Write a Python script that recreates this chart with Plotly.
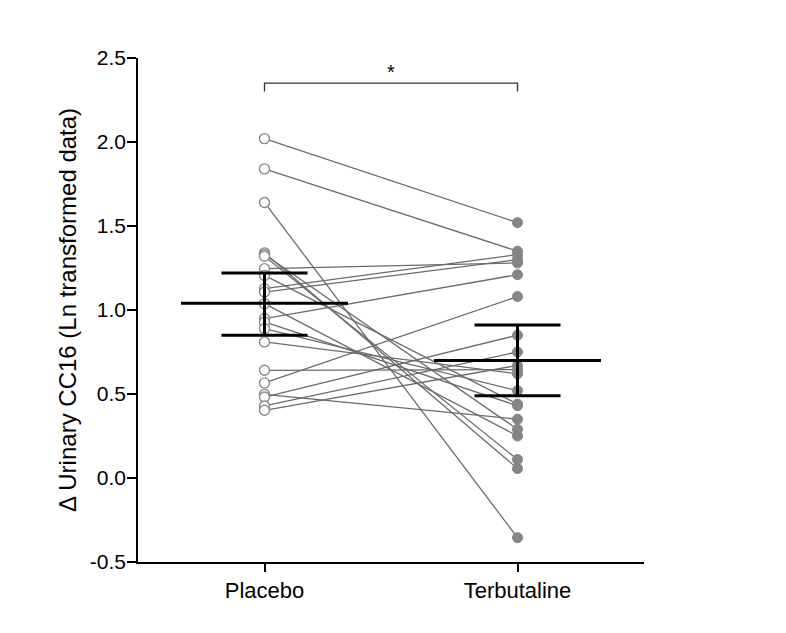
import plotly.graph_objects as go

# paired values (same index = same subject)
placebo = [2.02, 1.84, 1.64, 1.246, 1.127, 1.107, 0.949, 0.566, 0.641,
           1.34, 1.33, 1.32, 1.206, 1.038, 0.929, 0.889, 0.81,
           0.498, 0.482, 0.429, 0.403]
terbutaline = [1.52, 1.35, -0.355, 1.28, 1.33, 1.30, 1.21, 1.08, 0.645,
               0.056, 0.29, 0.11, 0.44, 0.25, 0.43, 0.52, 0.62,
               0.35, 0.85, 0.75, 0.67]

groups = ["Placebo", "Terbutaline"]
group_mean = [1.04, 0.70]
ci_upper = [1.22, 0.91]
ci_lower = [0.85, 0.49]

y_ticks = [-0.5, 0.0, 0.5, 1.0, 1.5, 2.0, 2.5]
y_ticktext = ["-0.5", "0.0", "0.5", "1.0", "1.5", "2.0", "2.5"]

sig_label = "*"
bracket_y = 2.35
bracket_drop = 0.05

FONT = "Liberation Sans, Arial, sans-serif"
mean_half = 0.33
cap_half = 0.17

fig = go.Figure()

# subject lines
lx, ly = [], []
for p, t in zip(placebo, terbutaline):
    lx += [0, 1, None]
    ly += [p, t, None]
fig.add_trace(go.Scatter(x=lx, y=ly, mode="lines",
                         line=dict(color="#6b6b6b", width=1.3),
                         hoverinfo="skip", showlegend=False))

fig.add_trace(go.Scatter(x=[0] * len(placebo), y=placebo, mode="markers",
                         marker=dict(size=10, color="white",
                                     line=dict(color="#8a8a8a", width=1.4)),
                         showlegend=False))
fig.add_trace(go.Scatter(x=[1] * len(terbutaline), y=terbutaline, mode="markers",
                         marker=dict(size=10, color="#858585",
                                     line=dict(color="#858585", width=1)),
                         showlegend=False))

# mean and CI (black, on top)
ex, ey = [], []
for i in range(len(groups)):
    ex += [i - mean_half, i + mean_half, None]
    ey += [group_mean[i], group_mean[i], None]
    ex += [i - cap_half, i + cap_half, None]
    ey += [ci_upper[i], ci_upper[i], None]
    ex += [i - cap_half, i + cap_half, None]
    ey += [ci_lower[i], ci_lower[i], None]
    ex += [i, i, None]
    ey += [ci_lower[i], ci_upper[i], None]
fig.add_trace(go.Scatter(x=ex, y=ey, mode="lines",
                         line=dict(color="black", width=3),
                         hoverinfo="skip", showlegend=False))

# significance bracket
fig.add_trace(go.Scatter(x=[0, 0, 1, 1],
                         y=[bracket_y - bracket_drop, bracket_y, bracket_y, bracket_y - bracket_drop],
                         mode="lines", line=dict(color="#333333", width=1.3),
                         hoverinfo="skip", showlegend=False))
fig.add_annotation(x=0.5, y=bracket_y, yshift=11, text=sig_label, showarrow=False,
                   font=dict(family=FONT, size=20, color="black"))

# page body adds 8px, so margins are shifted by that
fig.update_layout(
    width=786, height=633,
    margin=dict(l=130, r=150, t=50, b=79),
    plot_bgcolor="white", paper_bgcolor="white",
    font=dict(family=FONT, color="black"),
    xaxis=dict(range=[-0.5, 1.5], tickvals=[0, 1], ticktext=groups,
               showline=True, linecolor="black", linewidth=1.5,
               ticks="outside", ticklen=8, tickwidth=1.5, tickcolor="black",
               showgrid=False, zeroline=False, tickfont=dict(size=22),
               automargin=False),
    yaxis=dict(range=[-0.5, 2.5], tickvals=y_ticks, ticktext=y_ticktext,
               showline=True, linecolor="black", linewidth=1.5,
               ticks="outside", ticklen=9, tickwidth=1.5, tickcolor="black",
               showgrid=False, zeroline=False, tickfont=dict(size=21),
               ticklabelstandoff=-3, automargin=False,
               title=dict(text="\u0394 Urinary CC16 (Ln transformed data)",
                          font=dict(size=24), standoff=6)),
)

fig.write_html("out.html")
